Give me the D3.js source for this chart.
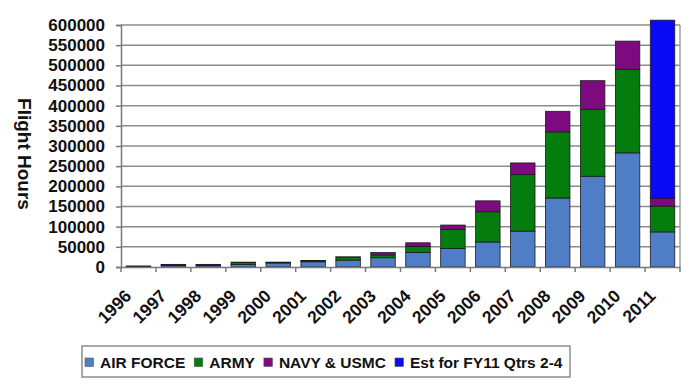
<!DOCTYPE html>
<html>
<head>
<meta charset="utf-8">
<script src="https://cdn.jsdelivr.net/npm/d3@7"></script>
<style>
  body { margin: 0; background: #fff; }
  svg { display: block; font-family: "Liberation Sans", Arial, sans-serif; font-weight: bold; }
</style>
</head>
<body>
<svg width="696" height="388"></svg>
<script>
const years = ["1996","1997","1998","1999","2000","2001","2002","2003","2004","2005","2006","2007","2008","2009","2010","2011"];
const airForce = [1500, 4000, 4000, 6000, 10000, 13000, 17000, 23000, 36000, 46000, 62000, 89000, 171000, 225000, 283000, 87000];
const army     = [500, 2000, 2000, 5500, 1500, 2500, 7500, 7000, 15000, 47000, 75000, 140000, 164000, 166000, 207000, 64000];
const navy     = [300, 500, 500, 500, 500, 500, 500, 6000, 9000, 11000, 27000, 29000, 51000, 71000, 70000, 20000];
const estFY11  = [0, 0, 0, 0, 0, 0, 0, 0, 0, 0, 0, 0, 0, 0, 0, 441000];
const seriesNames = ["AIR FORCE", "ARMY", "NAVY & USMC", "Est for FY11 Qtrs 2-4"];
const seriesColors = ["#4F7EC6", "#057D0E", "#7D0A7F", "#0A0AF8"];
const yTicks = d3.range(0, 600001, 50000);

const svg = d3.select("svg");
const margin = { left: 121, right: 16, top: 25, bottom: 121 };
const W = 696, H = 388;

const x = d3.scaleBand().domain(years).range([margin.left, W - margin.right]).paddingInner(0.3).paddingOuter(0.15);
const y = d3.scaleLinear().domain([0, 600000]).range([H - margin.bottom, margin.top]);

const rows = years.map((yr, i) => ({
  year: yr, af: airForce[i], army: army[i], navy: navy[i], est: estFY11[i]
}));
const keys = ["af", "army", "navy", "est"];
const stacked = d3.stack().keys(keys)(rows);

// gridlines
svg.append("g")
  .selectAll("line")
  .data(yTicks.slice(1))
  .join("line")
  .attr("x1", margin.left).attr("x2", W - margin.right)
  .attr("y1", d => y(d)).attr("y2", d => y(d))
  .attr("stroke", "#8c8c8c").attr("stroke-width", 1.5);

// right border
svg.append("line")
  .attr("x1", W - margin.right).attr("x2", W - margin.right)
  .attr("y1", y(600000)).attr("y2", y(0))
  .attr("stroke", "#a0a0a0").attr("stroke-width", 1.5);

// bars
svg.append("g")
  .selectAll("g")
  .data(stacked)
  .join("g")
  .attr("fill", (d, i) => seriesColors[i])
  .selectAll("rect")
  .data(d => d.filter(s => s[1] > s[0]))
  .join("rect")
  .attr("x", d => x(d.data.year))
  .attr("width", x.bandwidth())
  .attr("y", d => y(d[1]))
  .attr("height", d => y(d[0]) - y(d[1]))
  .attr("stroke", "#1a1a1a")
  .attr("stroke-width", 0.8);

// y axis
const yAxis = svg.append("g")
  .attr("transform", `translate(${margin.left},0)`)
  .call(d3.axisLeft(y).tickValues(yTicks).tickFormat(d3.format("d")).tickSize(5).tickPadding(11));
yAxis.select(".domain").attr("stroke", "#7a7a7a").attr("stroke-width", 1.5);
yAxis.selectAll(".tick line").attr("stroke", "#7a7a7a").attr("stroke-width", 1.5);
yAxis.selectAll(".tick text").attr("font-size", 17).attr("font-weight", "bold")
  .attr("font-family", "Liberation Sans, Arial, sans-serif").attr("fill", "#111");

// x axis
const xAxis = svg.append("g")
  .attr("transform", `translate(0,${y(0)})`)
  .call(d3.axisBottom(x).tickSize(0).tickFormat(""));
xAxis.select(".domain").attr("stroke", "#7a7a7a").attr("stroke-width", 1.5);

const boundaries = d3.range(years.length + 1).map(i => margin.left + i * (W - margin.right - margin.left) / years.length);
xAxis.append("g").selectAll("line")
  .data(boundaries)
  .join("line")
  .attr("x1", d => d).attr("x2", d => d)
  .attr("y1", 0).attr("y2", 5)
  .attr("stroke", "#7a7a7a").attr("stroke-width", 1.5);

xAxis.append("g").selectAll("text")
  .data(years)
  .join("text")
  .attr("transform", d => `translate(${x(d) + x.bandwidth() / 2 - 6},${30}) rotate(-45)`)
  .attr("text-anchor", "end")
  .attr("font-size", 17.5)
  .attr("font-weight", "bold")
  .attr("fill", "#111")
  .text(d => d);

// y title
svg.append("text")
  .attr("transform", `translate(18,${(y(0) + y(600000)) / 2 + 8}) rotate(90)`)
  .attr("text-anchor", "middle")
  .attr("font-size", 19)
  .attr("fill", "#111")
  .text("Flight Hours");

// legend
const legend = svg.append("g");
legend.append("rect")
  .attr("x", 82).attr("y", 346).attr("width", 488).attr("height", 31)
  .attr("fill", "#fff").attr("stroke", "#8c8c8c").attr("stroke-width", 1.5);
let lx = 85;
seriesNames.forEach((name, i) => {
  legend.append("rect")
    .attr("x", lx).attr("y", 358).attr("width", 8.5).attr("height", 8.5)
    .attr("fill", seriesColors[i]).attr("stroke", "#555").attr("stroke-width", 0.6);
  const t = legend.append("text")
    .attr("x", lx + 15).attr("y", 368)
    .attr("font-size", 15.5)
    .attr("fill", "#111")
    .text(name);
  lx += 15 + t.node().getComputedTextLength() + 9;
});
</script>
</body>
</html>
